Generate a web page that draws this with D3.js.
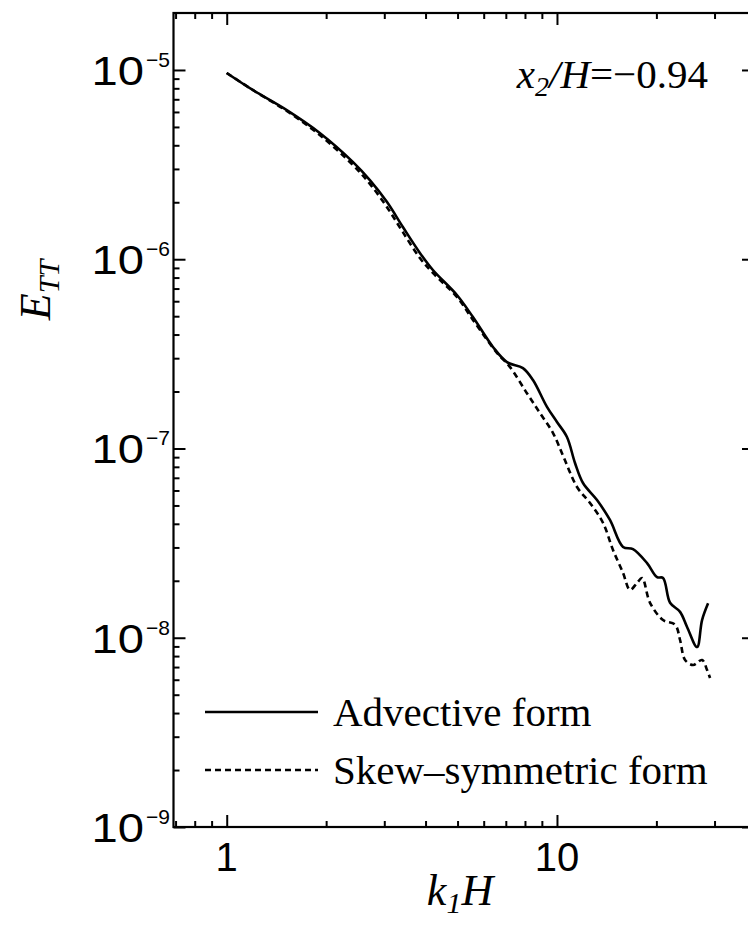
<!DOCTYPE html>
<html>
<head>
<meta charset="utf-8">
<script src="https://cdn.jsdelivr.net/npm/d3@7"></script>
<style>
  html, body { margin: 0; padding: 0; background: #fff; }
  svg { display: block; }
</style>
</head>
<body>
<svg id="chart" width="748" height="932"></svg>
<script>
// Streamwise wavenumber k1H for each spectrum sample
const advK = [1.000, 1.199, 1.520, 1.913, 2.409, 2.713, 3.054, 3.415, 3.845, 4.210, 4.977, 5.566, 6.400, 7.056, 7.888, 8.459, 9.327, 10.00, 10.72, 11.34, 11.99, 13.22, 14.47, 15.85, 16.99, 18.74, 20.09, 20.95, 22.00, 23.59, 24.77, 26.56, 27.50, 28.68];
// Temperature spectrum E_TT, advective form
const advE = [9.64e-6, 7.84e-6, 6.14e-6, 4.65e-6, 3.27e-6, 2.62e-6, 2.01e-6, 1.48e-6, 1.08e-6, 8.77e-7, 6.47e-7, 4.95e-7, 3.44e-7, 2.86e-7, 2.66e-7, 2.30e-7, 1.66e-7, 1.38e-7, 1.15e-7, 8.38e-8, 6.57e-8, 5.34e-8, 4.19e-8, 3.02e-8, 2.94e-8, 2.48e-8, 2.09e-8, 2.07e-8, 1.53e-8, 1.37e-8, 1.14e-8, 8.93e-9, 1.24e-8, 1.52e-8];

const skewK = [1.000, 1.199, 1.520, 1.913, 2.409, 2.713, 3.054, 3.415, 3.845, 4.210, 4.977, 5.566, 6.580, 7.200, 8.110, 8.880, 9.720, 10.50, 11.50, 12.59, 13.79, 14.78, 15.85, 16.64, 17.48, 18.10, 19.13, 20.95, 22.79, 23.59, 24.43, 25.83, 27.50, 28.48, 29.08];
// Temperature spectrum E_TT, skew-symmetric form
const skewE = [9.64e-6, 7.84e-6, 6.07e-6, 4.53e-6, 3.15e-6, 2.50e-6, 1.89e-6, 1.39e-6, 1.015e-6, 8.46e-7, 6.32e-7, 4.78e-7, 3.20e-7, 2.70e-7, 1.96e-7, 1.54e-7, 1.21e-7, 8.91e-8, 6.26e-8, 5.15e-8, 4.04e-8, 2.91e-8, 2.20e-8, 1.79e-8, 1.95e-8, 2.07e-8, 1.53e-8, 1.24e-8, 1.17e-8, 9.73e-9, 7.63e-9, 7.18e-9, 7.63e-9, 6.75e-9, 6.13e-9];

const xTickValues = [1, 10];
const xTickLabels = ["1", "10"];
const yTickExponents = [-5, -6, -7, -8, -9];

(function () {
  const svg = d3.select("#chart");
  const m = { left: 173.5, right: 754, top: 13, bottom: 827 };

  const x = d3.scaleLog().domain([0.69, 39.5]).range([m.left, m.right]);
  const y = d3.scaleLog().domain([1e-9, 2e-5]).range([m.bottom, m.top]);

  const sans = "'Liberation Sans', Arial, Helvetica, sans-serif";
  const serif = "'Liberation Serif', 'Times New Roman', Times, serif";

  // Major and minor tick positions
  const xMajor = xTickValues;
  const xMinor = [0.7, 0.8, 0.9, 2, 3, 4, 5, 6, 7, 8, 9, 20, 30].filter(v => x(v) > m.left + 1);
  const yMajor = yTickExponents.map(e => Math.pow(10, e));
  const yMinor = [];
  for (let e = -9; e <= -5; e++) {
    for (let k = 2; k <= 9; k++) {
      const v = k * Math.pow(10, e);
      if (v < 2e-5) yMinor.push(v);
    }
  }

  // Inward-pointing ticks on all four sides
  function tickAxis(gen, vals, size, tx, ty) {
    const g = svg.append("g")
      .attr("transform", `translate(${tx},${ty})`)
      .call(gen.tickValues(vals).tickSize(size).tickFormat(""));
    g.select(".domain").remove();
    g.selectAll(".tick line").attr("stroke", "#000").attr("stroke-width", 2);
  }
  tickAxis(d3.axisBottom(x), xMajor, -12, 0, m.bottom);
  tickAxis(d3.axisBottom(x), xMinor, -6, 0, m.bottom);
  tickAxis(d3.axisTop(x), xMajor, -12, 0, m.top);
  tickAxis(d3.axisTop(x), xMinor, -6, 0, m.top);
  tickAxis(d3.axisLeft(y), yMajor, -12, m.left, 0);
  tickAxis(d3.axisLeft(y), yMinor, -6, m.left, 0);
  tickAxis(d3.axisRight(y), yMajor, -12, m.right, 0);
  tickAxis(d3.axisRight(y), yMinor, -6, m.right, 0);

  // Plot frame
  svg.append("rect")
    .attr("x", m.left).attr("y", m.top)
    .attr("width", m.right - m.left).attr("height", m.bottom - m.top)
    .attr("fill", "none").attr("stroke", "#000").attr("stroke-width", 2.2);

  // X tick labels
  svg.append("g").selectAll("text").data(xTickValues).join("text")
    .attr("x", d => x(d))
    .attr("y", 871)
    .attr("text-anchor", "middle")
    .attr("font-family", sans)
    .attr("font-size", 40)
    .text((d, i) => xTickLabels[i]);

  // Y tick labels: widened "10" base plus superscript exponent
  const yLab = svg.append("g").selectAll("g").data(yTickExponents).join("g")
    .attr("transform", d => `translate(0, ${y(Math.pow(10, d))})`);
  yLab.append("text")
    .attr("transform", "translate(144, 15) scale(1.18, 1)")
    .attr("text-anchor", "end")
    .attr("font-family", sans)
    .attr("font-size", 40)
    .text("10");
  yLab.append("text")
    .attr("x", 146).attr("y", -3)
    .attr("text-anchor", "start")
    .attr("font-family", sans)
    .attr("font-size", 21)
    .text(d => "\u2212" + Math.abs(d));

  // Axis titles
  const xTitle = svg.append("text")
    .attr("x", 460).attr("y", 905)
    .attr("text-anchor", "middle")
    .attr("font-family", serif)
    .attr("font-style", "italic")
    .attr("font-size", 44);
  xTitle.append("tspan").text("k");
  xTitle.append("tspan").attr("font-size", 30).attr("dy", 8).text("1");
  xTitle.append("tspan").attr("dy", -8).text("H");

  const yTitle = svg.append("text")
    .attr("transform", "translate(50, 290) rotate(-90)")
    .attr("text-anchor", "middle")
    .attr("font-family", serif)
    .attr("font-style", "italic")
    .attr("font-size", 44);
  yTitle.append("tspan").text("E");
  yTitle.append("tspan").attr("font-size", 30).attr("dy", 9).text("TT");

  // Location annotation
  const note = svg.append("text")
    .attr("x", 708).attr("y", 88)
    .attr("text-anchor", "end")
    .attr("font-family", serif)
    .attr("font-size", 41);
  note.append("tspan").attr("font-style", "italic").text("x");
  note.append("tspan").attr("font-style", "italic").attr("font-size", 28).attr("dy", 8).text("2");
  note.append("tspan").attr("font-style", "italic").attr("dy", -8).text("/H");
  note.append("tspan").text("=\u22120.94");

  // Spectra
  const line = d3.line()
    .x(d => x(d[0]))
    .y(d => y(d[1]))
    .curve(d3.curveCatmullRom.alpha(0.5));

  const advData = advK.map((k, i) => [k, advE[i]]);
  const skewData = skewK.map((k, i) => [k, skewE[i]]);

  svg.append("path").datum(advData)
    .attr("d", line)
    .attr("fill", "none")
    .attr("stroke", "#000")
    .attr("stroke-width", 2.6);

  svg.append("path").datum(skewData)
    .attr("d", line)
    .attr("fill", "none")
    .attr("stroke", "#000")
    .attr("stroke-width", 2.6)
    .attr("stroke-dasharray", "6,4");

  // Legend
  const legendRows = [
    { label: "Advective form", dash: null, yPos: 712 },
    { label: "Skew\u2013symmetric form", dash: "6,4", yPos: 770 }
  ];
  const legend = svg.append("g");
  legendRows.forEach(r => {
    legend.append("line")
      .attr("x1", 205).attr("x2", 318)
      .attr("y1", r.yPos).attr("y2", r.yPos)
      .attr("stroke", "#000").attr("stroke-width", 2.6)
      .attr("stroke-dasharray", r.dash);
    legend.append("text")
      .attr("x", 333).attr("y", r.yPos + 14)
      .attr("font-family", serif)
      .attr("font-size", 41)
      .text(r.label);
  });
})();
</script>
</body>
</html>
